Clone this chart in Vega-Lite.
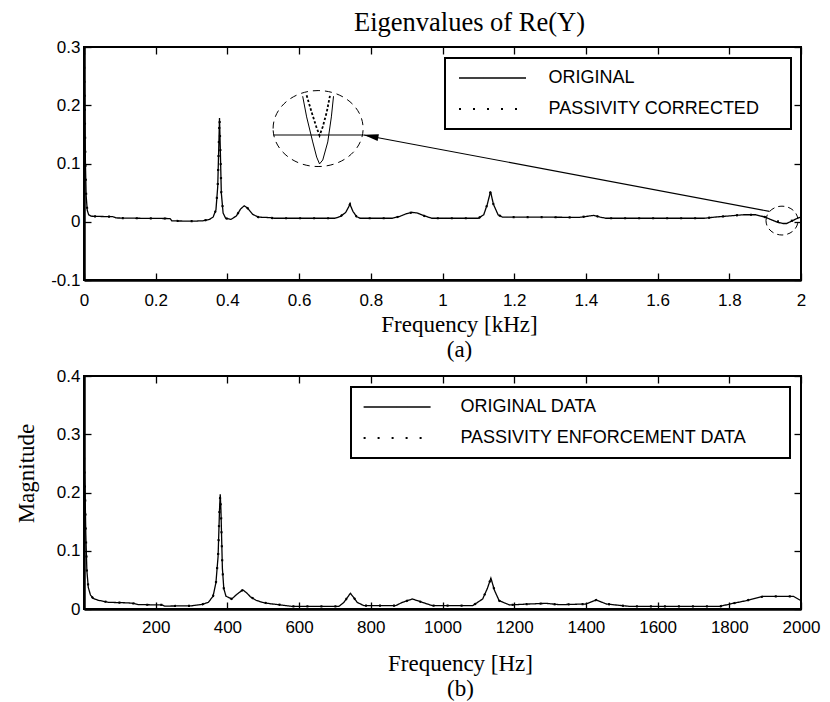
{
  "$schema": "https://vega.github.io/schema/vega-lite/v6.json",
  "background": "white",
  "padding": {"left": 14, "top": 8, "right": 5, "bottom": 2},
  "config": {
    "font": "Liberation Sans",
    "view": {"stroke": "black", "strokeWidth": 2},
    "axis": {
      "domainColor": "black", "domainWidth": 2.5,
      "tickColor": "black", "tickWidth": 1.3, "tickSize": -7,
      "labelFont": "Liberation Sans", "labelFontSize": 17, "labelColor": "black",
      "labelFlush": false, "labelOverlap": false, "grid": false,
      "titleFont": "Liberation Serif", "titleFontSize": 23, "titleFontWeight": "normal", "titleColor": "black"
    },
    "axisY": {"labelPadding": 11},
    "legend": {
      "orient": "none", "strokeColor": "black", "strokeWidth": 2, "fillColor": "white",
      "padding": 11, "rowPadding": 13, "cornerRadius": 0, "labelLimit": 0,
      "labelFont": "Liberation Sans", "labelFontSize": 18, "labelColor": "black",
      "symbolSize": 225, "symbolStrokeColor": "black", "symbolFillColor": "transparent"
    }
  },
  "datasets": {
    "top": [
      {"f": 0, "ORIGINAL": 0.29, "PASSIVITY CORRECTED": 0.29},
      {"f": 0.002, "ORIGINAL": 0.2, "PASSIVITY CORRECTED": 0.2},
      {"f": 0.004, "ORIGINAL": 0.1, "PASSIVITY CORRECTED": 0.1},
      {"f": 0.006, "ORIGINAL": 0.045, "PASSIVITY CORRECTED": 0.045},
      {"f": 0.009, "ORIGINAL": 0.02, "PASSIVITY CORRECTED": 0.02},
      {"f": 0.013, "ORIGINAL": 0.012, "PASSIVITY CORRECTED": 0.012},
      {"f": 0.02, "ORIGINAL": 0.0095, "PASSIVITY CORRECTED": 0.0095},
      {"f": 0.05, "ORIGINAL": 0.009, "PASSIVITY CORRECTED": 0.009},
      {"f": 0.08, "ORIGINAL": 0.0088, "PASSIVITY CORRECTED": 0.0088},
      {"f": 0.09, "ORIGINAL": 0.0065, "PASSIVITY CORRECTED": 0.0065},
      {"f": 0.15, "ORIGINAL": 0.006, "PASSIVITY CORRECTED": 0.006},
      {"f": 0.24, "ORIGINAL": 0.0055, "PASSIVITY CORRECTED": 0.0055},
      {"f": 0.245, "ORIGINAL": 0.0015, "PASSIVITY CORRECTED": 0.0015},
      {"f": 0.3, "ORIGINAL": 0.001, "PASSIVITY CORRECTED": 0.001},
      {"f": 0.33, "ORIGINAL": 0.0015, "PASSIVITY CORRECTED": 0.0015},
      {"f": 0.35, "ORIGINAL": 0.004, "PASSIVITY CORRECTED": 0.004},
      {"f": 0.36, "ORIGINAL": 0.008, "PASSIVITY CORRECTED": 0.008},
      {"f": 0.368, "ORIGINAL": 0.02, "PASSIVITY CORRECTED": 0.02},
      {"f": 0.373, "ORIGINAL": 0.06, "PASSIVITY CORRECTED": 0.06},
      {"f": 0.376, "ORIGINAL": 0.13, "PASSIVITY CORRECTED": 0.13},
      {"f": 0.378, "ORIGINAL": 0.178, "PASSIVITY CORRECTED": 0.178},
      {"f": 0.38, "ORIGINAL": 0.13, "PASSIVITY CORRECTED": 0.13},
      {"f": 0.383, "ORIGINAL": 0.05, "PASSIVITY CORRECTED": 0.05},
      {"f": 0.388, "ORIGINAL": 0.015, "PASSIVITY CORRECTED": 0.015},
      {"f": 0.395, "ORIGINAL": 0.006, "PASSIVITY CORRECTED": 0.006},
      {"f": 0.41, "ORIGINAL": 0.004, "PASSIVITY CORRECTED": 0.004},
      {"f": 0.425, "ORIGINAL": 0.01, "PASSIVITY CORRECTED": 0.01},
      {"f": 0.437, "ORIGINAL": 0.022, "PASSIVITY CORRECTED": 0.022},
      {"f": 0.447, "ORIGINAL": 0.0275, "PASSIVITY CORRECTED": 0.0275},
      {"f": 0.457, "ORIGINAL": 0.023, "PASSIVITY CORRECTED": 0.023},
      {"f": 0.47, "ORIGINAL": 0.013, "PASSIVITY CORRECTED": 0.013},
      {"f": 0.486, "ORIGINAL": 0.008, "PASSIVITY CORRECTED": 0.008},
      {"f": 0.52, "ORIGINAL": 0.007, "PASSIVITY CORRECTED": 0.007},
      {"f": 0.53, "ORIGINAL": 0.006, "PASSIVITY CORRECTED": 0.006},
      {"f": 0.7, "ORIGINAL": 0.006, "PASSIVITY CORRECTED": 0.006},
      {"f": 0.715, "ORIGINAL": 0.009, "PASSIVITY CORRECTED": 0.009},
      {"f": 0.73, "ORIGINAL": 0.016, "PASSIVITY CORRECTED": 0.016},
      {"f": 0.742, "ORIGINAL": 0.03, "PASSIVITY CORRECTED": 0.03},
      {"f": 0.75, "ORIGINAL": 0.018, "PASSIVITY CORRECTED": 0.018},
      {"f": 0.76, "ORIGINAL": 0.009, "PASSIVITY CORRECTED": 0.009},
      {"f": 0.77, "ORIGINAL": 0.006, "PASSIVITY CORRECTED": 0.006},
      {"f": 0.86, "ORIGINAL": 0.006, "PASSIVITY CORRECTED": 0.006},
      {"f": 0.88, "ORIGINAL": 0.009, "PASSIVITY CORRECTED": 0.009},
      {"f": 0.9, "ORIGINAL": 0.014, "PASSIVITY CORRECTED": 0.014},
      {"f": 0.915, "ORIGINAL": 0.016, "PASSIVITY CORRECTED": 0.016},
      {"f": 0.93, "ORIGINAL": 0.015, "PASSIVITY CORRECTED": 0.015},
      {"f": 0.95, "ORIGINAL": 0.01, "PASSIVITY CORRECTED": 0.01},
      {"f": 0.97, "ORIGINAL": 0.006, "PASSIVITY CORRECTED": 0.006},
      {"f": 1.1, "ORIGINAL": 0.006, "PASSIVITY CORRECTED": 0.006},
      {"f": 1.115, "ORIGINAL": 0.012, "PASSIVITY CORRECTED": 0.012},
      {"f": 1.125, "ORIGINAL": 0.03, "PASSIVITY CORRECTED": 0.03},
      {"f": 1.134, "ORIGINAL": 0.052, "PASSIVITY CORRECTED": 0.052},
      {"f": 1.142, "ORIGINAL": 0.03, "PASSIVITY CORRECTED": 0.03},
      {"f": 1.155, "ORIGINAL": 0.012, "PASSIVITY CORRECTED": 0.012},
      {"f": 1.167, "ORIGINAL": 0.008, "PASSIVITY CORRECTED": 0.008},
      {"f": 1.25, "ORIGINAL": 0.008, "PASSIVITY CORRECTED": 0.008},
      {"f": 1.38, "ORIGINAL": 0.0075, "PASSIVITY CORRECTED": 0.0075},
      {"f": 1.4, "ORIGINAL": 0.009, "PASSIVITY CORRECTED": 0.009},
      {"f": 1.422, "ORIGINAL": 0.011, "PASSIVITY CORRECTED": 0.011},
      {"f": 1.44, "ORIGINAL": 0.008, "PASSIVITY CORRECTED": 0.008},
      {"f": 1.455, "ORIGINAL": 0.006, "PASSIVITY CORRECTED": 0.006},
      {"f": 1.73, "ORIGINAL": 0.006, "PASSIVITY CORRECTED": 0.006},
      {"f": 1.76, "ORIGINAL": 0.008, "PASSIVITY CORRECTED": 0.008},
      {"f": 1.8, "ORIGINAL": 0.01, "PASSIVITY CORRECTED": 0.01},
      {"f": 1.84, "ORIGINAL": 0.012, "PASSIVITY CORRECTED": 0.012},
      {"f": 1.874, "ORIGINAL": 0.012, "PASSIVITY CORRECTED": 0.012},
      {"f": 1.9, "ORIGINAL": 0.008, "PASSIVITY CORRECTED": 0.008},
      {"f": 1.915, "ORIGINAL": 0.004, "PASSIVITY CORRECTED": 0.004},
      {"f": 1.935, "ORIGINAL": -0.001, "PASSIVITY CORRECTED": 0.0005},
      {"f": 1.95, "ORIGINAL": -0.003, "PASSIVITY CORRECTED": 0.0008},
      {"f": 1.96, "ORIGINAL": -0.003, "PASSIVITY CORRECTED": 0.0005},
      {"f": 1.977, "ORIGINAL": 0.002, "PASSIVITY CORRECTED": 0.002},
      {"f": 1.99, "ORIGINAL": 0.006, "PASSIVITY CORRECTED": 0.006},
      {"f": 2.0, "ORIGINAL": 0.008, "PASSIVITY CORRECTED": 0.008}
    ],
    "bot": [
      {"hz": 0, "ORIGINAL DATA": 0.26, "PASSIVITY ENFORCEMENT DATA": 0.26},
      {"hz": 3, "ORIGINAL DATA": 0.2, "PASSIVITY ENFORCEMENT DATA": 0.2},
      {"hz": 5, "ORIGINAL DATA": 0.13, "PASSIVITY ENFORCEMENT DATA": 0.13},
      {"hz": 8, "ORIGINAL DATA": 0.066, "PASSIVITY ENFORCEMENT DATA": 0.066},
      {"hz": 12, "ORIGINAL DATA": 0.037, "PASSIVITY ENFORCEMENT DATA": 0.037},
      {"hz": 18, "ORIGINAL DATA": 0.024, "PASSIVITY ENFORCEMENT DATA": 0.024},
      {"hz": 26, "ORIGINAL DATA": 0.018, "PASSIVITY ENFORCEMENT DATA": 0.018},
      {"hz": 40, "ORIGINAL DATA": 0.015, "PASSIVITY ENFORCEMENT DATA": 0.015},
      {"hz": 68, "ORIGINAL DATA": 0.0115, "PASSIVITY ENFORCEMENT DATA": 0.0115},
      {"hz": 124, "ORIGINAL DATA": 0.0105, "PASSIVITY ENFORCEMENT DATA": 0.0105},
      {"hz": 140, "ORIGINAL DATA": 0.0095, "PASSIVITY ENFORCEMENT DATA": 0.0095},
      {"hz": 152, "ORIGINAL DATA": 0.0075, "PASSIVITY ENFORCEMENT DATA": 0.0075},
      {"hz": 217, "ORIGINAL DATA": 0.007, "PASSIVITY ENFORCEMENT DATA": 0.007},
      {"hz": 225, "ORIGINAL DATA": 0.005, "PASSIVITY ENFORCEMENT DATA": 0.005},
      {"hz": 300, "ORIGINAL DATA": 0.0055, "PASSIVITY ENFORCEMENT DATA": 0.0055},
      {"hz": 330, "ORIGINAL DATA": 0.008, "PASSIVITY ENFORCEMENT DATA": 0.008},
      {"hz": 347, "ORIGINAL DATA": 0.0115, "PASSIVITY ENFORCEMENT DATA": 0.0115},
      {"hz": 360, "ORIGINAL DATA": 0.022, "PASSIVITY ENFORCEMENT DATA": 0.022},
      {"hz": 368, "ORIGINAL DATA": 0.045, "PASSIVITY ENFORCEMENT DATA": 0.045},
      {"hz": 374, "ORIGINAL DATA": 0.09, "PASSIVITY ENFORCEMENT DATA": 0.09},
      {"hz": 378, "ORIGINAL DATA": 0.17, "PASSIVITY ENFORCEMENT DATA": 0.17},
      {"hz": 380, "ORIGINAL DATA": 0.197, "PASSIVITY ENFORCEMENT DATA": 0.197},
      {"hz": 382, "ORIGINAL DATA": 0.17, "PASSIVITY ENFORCEMENT DATA": 0.17},
      {"hz": 386, "ORIGINAL DATA": 0.07, "PASSIVITY ENFORCEMENT DATA": 0.07},
      {"hz": 390, "ORIGINAL DATA": 0.035, "PASSIVITY ENFORCEMENT DATA": 0.035},
      {"hz": 396, "ORIGINAL DATA": 0.022, "PASSIVITY ENFORCEMENT DATA": 0.022},
      {"hz": 412, "ORIGINAL DATA": 0.0172, "PASSIVITY ENFORCEMENT DATA": 0.0172},
      {"hz": 426, "ORIGINAL DATA": 0.025, "PASSIVITY ENFORCEMENT DATA": 0.025},
      {"hz": 443, "ORIGINAL DATA": 0.033, "PASSIVITY ENFORCEMENT DATA": 0.033},
      {"hz": 455, "ORIGINAL DATA": 0.027, "PASSIVITY ENFORCEMENT DATA": 0.027},
      {"hz": 464, "ORIGINAL DATA": 0.021, "PASSIVITY ENFORCEMENT DATA": 0.021},
      {"hz": 480, "ORIGINAL DATA": 0.015, "PASSIVITY ENFORCEMENT DATA": 0.015},
      {"hz": 497, "ORIGINAL DATA": 0.0114, "PASSIVITY ENFORCEMENT DATA": 0.0114},
      {"hz": 520, "ORIGINAL DATA": 0.009, "PASSIVITY ENFORCEMENT DATA": 0.009},
      {"hz": 543, "ORIGINAL DATA": 0.0074, "PASSIVITY ENFORCEMENT DATA": 0.0074},
      {"hz": 580, "ORIGINAL DATA": 0.0045, "PASSIVITY ENFORCEMENT DATA": 0.0045},
      {"hz": 711, "ORIGINAL DATA": 0.0045, "PASSIVITY ENFORCEMENT DATA": 0.0045},
      {"hz": 725, "ORIGINAL DATA": 0.0114, "PASSIVITY ENFORCEMENT DATA": 0.0114},
      {"hz": 735, "ORIGINAL DATA": 0.02, "PASSIVITY ENFORCEMENT DATA": 0.02},
      {"hz": 743, "ORIGINAL DATA": 0.027, "PASSIVITY ENFORCEMENT DATA": 0.027},
      {"hz": 752, "ORIGINAL DATA": 0.02, "PASSIVITY ENFORCEMENT DATA": 0.02},
      {"hz": 762, "ORIGINAL DATA": 0.0114, "PASSIVITY ENFORCEMENT DATA": 0.0114},
      {"hz": 781, "ORIGINAL DATA": 0.0057, "PASSIVITY ENFORCEMENT DATA": 0.0057},
      {"hz": 869, "ORIGINAL DATA": 0.0057, "PASSIVITY ENFORCEMENT DATA": 0.0057},
      {"hz": 888, "ORIGINAL DATA": 0.0114, "PASSIVITY ENFORCEMENT DATA": 0.0114},
      {"hz": 916, "ORIGINAL DATA": 0.0172, "PASSIVITY ENFORCEMENT DATA": 0.0172},
      {"hz": 944, "ORIGINAL DATA": 0.0114, "PASSIVITY ENFORCEMENT DATA": 0.0114},
      {"hz": 972, "ORIGINAL DATA": 0.0057, "PASSIVITY ENFORCEMENT DATA": 0.0057},
      {"hz": 1084, "ORIGINAL DATA": 0.0057, "PASSIVITY ENFORCEMENT DATA": 0.0057},
      {"hz": 1112, "ORIGINAL DATA": 0.0172, "PASSIVITY ENFORCEMENT DATA": 0.0172},
      {"hz": 1125, "ORIGINAL DATA": 0.035, "PASSIVITY ENFORCEMENT DATA": 0.035},
      {"hz": 1135, "ORIGINAL DATA": 0.053, "PASSIVITY ENFORCEMENT DATA": 0.053},
      {"hz": 1145, "ORIGINAL DATA": 0.032, "PASSIVITY ENFORCEMENT DATA": 0.032},
      {"hz": 1158, "ORIGINAL DATA": 0.0143, "PASSIVITY ENFORCEMENT DATA": 0.0143},
      {"hz": 1187, "ORIGINAL DATA": 0.0069, "PASSIVITY ENFORCEMENT DATA": 0.0069},
      {"hz": 1242, "ORIGINAL DATA": 0.0086, "PASSIVITY ENFORCEMENT DATA": 0.0086},
      {"hz": 1289, "ORIGINAL DATA": 0.0097, "PASSIVITY ENFORCEMENT DATA": 0.0097},
      {"hz": 1326, "ORIGINAL DATA": 0.0074, "PASSIVITY ENFORCEMENT DATA": 0.0074},
      {"hz": 1400, "ORIGINAL DATA": 0.0086, "PASSIVITY ENFORCEMENT DATA": 0.0086},
      {"hz": 1429, "ORIGINAL DATA": 0.0155, "PASSIVITY ENFORCEMENT DATA": 0.0155},
      {"hz": 1457, "ORIGINAL DATA": 0.0086, "PASSIVITY ENFORCEMENT DATA": 0.0086},
      {"hz": 1522, "ORIGINAL DATA": 0.0045, "PASSIVITY ENFORCEMENT DATA": 0.0045},
      {"hz": 1774, "ORIGINAL DATA": 0.0045, "PASSIVITY ENFORCEMENT DATA": 0.0045},
      {"hz": 1802, "ORIGINAL DATA": 0.0086, "PASSIVITY ENFORCEMENT DATA": 0.0086},
      {"hz": 1847, "ORIGINAL DATA": 0.0143, "PASSIVITY ENFORCEMENT DATA": 0.0143},
      {"hz": 1895, "ORIGINAL DATA": 0.0217, "PASSIVITY ENFORCEMENT DATA": 0.0217},
      {"hz": 1979, "ORIGINAL DATA": 0.0217, "PASSIVITY ENFORCEMENT DATA": 0.0217},
      {"hz": 2000, "ORIGINAL DATA": 0.0143, "PASSIVITY ENFORCEMENT DATA": 0.0143}
    ]
  },
  "spacing": 3,
  "resolve": {
    "scale": {"strokeDash": "independent", "strokeWidth": "independent"},
    "legend": {"strokeDash": "independent", "strokeWidth": "independent"}
  },
  "vconcat": [
    {
      "width": 717,
      "height": 233,
      "title": {"text": "Eigenvalues of Re(Y)", "font": "Liberation Serif", "fontSize": 26.5, "fontWeight": "normal", "color": "black", "anchor": "middle", "dx": 27, "offset": -19, "baseline": "alphabetic"},
      "layer": [
        {
          "layer": [
            {
              "data": {"name": "top"},
              "transform": [{"fold": ["ORIGINAL", "PASSIVITY CORRECTED"], "as": ["series", "val"]}],
              "mark": {"type": "line", "color": "black", "clip": true},
              "encoding": {
                "x": {"field": "f", "type": "quantitative", "scale": {"domain": [0, 2], "nice": false, "zero": false},
                  "axis": {"values": [0, 0.2, 0.4, 0.6, 0.8, 1, 1.2, 1.4, 1.6, 1.8, 2], "labelExpr": "'' + datum.value", "labelPadding": 19.5, "labelDx": 5, "title": ["Frequency [kHz]", "(a)"], "titleX": 375, "titleY": 33, "titleLineHeight": 25.5}},
                "y": {"field": "val", "type": "quantitative", "scale": {"domain": [-0.1, 0.3], "nice": false, "zero": false},
                  "axis": {"values": [-0.1, 0, 0.1, 0.2, 0.3], "labelExpr": "'' + datum.value", "title": null}},
                "strokeDash": {"field": "series", "type": "nominal", "scale": {"domain": ["ORIGINAL", "PASSIVITY CORRECTED"], "range": [[1, 0], [2, 12]]},
                  "legend": {"title": null, "legendX": 361, "legendY": 11, "symbolType": "M -4.467 0 L 4.467 0 M 37.7 0", "symbolOffset": 27.5, "labelOffset": 47}},
                "strokeWidth": {"field": "series", "type": "nominal", "scale": {"domain": ["ORIGINAL", "PASSIVITY CORRECTED"], "range": [1.3, 2.2]},
                  "legend": {"title": null, "legendX": 361, "legendY": 11, "symbolType": "M -4.467 0 L 4.467 0 M 37.7 0", "symbolOffset": 27.5, "labelOffset": 47}}
              }
            },
            {
              "data": {"values": [{"f": 0.653, "v": 0.16, "kind": "big"}]},
              "mark": {"type": "point", "shape": "M -1 0 A 1 0.844 0 1 1 1 0 A 1 0.844 0 1 1 -1 0 Z", "size": 8100, "filled": false, "stroke": "black", "strokeWidth": 1, "strokeDash": [7, 5], "opacity": 1},
              "encoding": {"x": {"field": "f", "type": "quantitative"}, "y": {"field": "v", "type": "quantitative"}}
            },
            {
              "data": {"values": [{"f": 1.947, "v": 0.002, "kind": "small"}]},
              "mark": {"type": "point", "shape": "M -1 0 A 1 0.9 0 1 1 1 0 A 1 0.9 0 1 1 -1 0 Z", "size": 1024, "filled": false, "stroke": "black", "strokeWidth": 1, "strokeDash": [6, 4], "opacity": 1},
              "encoding": {"x": {"field": "f", "type": "quantitative"}, "y": {"field": "v", "type": "quantitative"}}
            },
            {
              "data": {"values": [{"f": 1.912, "v": 0.0178, "f2": 0.7796, "v2": 0.149}, {"f": 0.528, "v": 0.149, "f2": 0.7796, "v2": 0.149}]},
              "mark": {"type": "rule", "color": "black", "strokeWidth": 1.1},
              "encoding": {"x": {"field": "f", "type": "quantitative"}, "y": {"field": "v", "type": "quantitative"}, "x2": {"field": "f2"}, "y2": {"field": "v2"}}
            },
            {
              "data": {"values": [{"f": 0.8003, "v": 0.1469}]},
              "mark": {"type": "point", "shape": "M -1 0 L 1 -0.45 L 1 0.45 Z", "size": 225, "filled": true, "color": "black", "angle": 10.7, "opacity": 1},
              "encoding": {"x": {"field": "f", "type": "quantitative"}, "y": {"field": "v", "type": "quantitative"}}
            },
            {
              "data": {"values": [
                {"f": 0.61, "v": 0.2155, "o": 1}, {"f": 0.621, "v": 0.18, "o": 2}, {"f": 0.638, "v": 0.137, "o": 3},
                {"f": 0.649, "v": 0.111, "o": 4}, {"f": 0.657, "v": 0.0993, "o": 5}, {"f": 0.666, "v": 0.106, "o": 6},
                {"f": 0.68, "v": 0.137, "o": 7}, {"f": 0.69, "v": 0.18, "o": 8}, {"f": 0.696, "v": 0.2155, "o": 9}
              ]},
              "mark": {"type": "line", "color": "black", "strokeWidth": 1},
              "encoding": {"x": {"field": "f", "type": "quantitative"}, "y": {"field": "v", "type": "quantitative"}, "order": {"field": "o"}}
            },
            {
              "data": {"values": [
                {"f": 0.621, "v": 0.217, "o": 1}, {"f": 0.635, "v": 0.188, "o": 2}, {"f": 0.648, "v": 0.163, "o": 3},
                {"f": 0.657, "v": 0.148, "o": 4}, {"f": 0.666, "v": 0.163, "o": 5}, {"f": 0.677, "v": 0.188, "o": 6},
                {"f": 0.686, "v": 0.216, "o": 7}
              ]},
              "mark": {"type": "line", "color": "black", "strokeWidth": 1.8, "strokeDash": [2.5, 2]},
              "encoding": {"x": {"field": "f", "type": "quantitative"}, "y": {"field": "v", "type": "quantitative"}, "order": {"field": "o"}}
            }
          ]
        },
        {
          "data": {"name": "top"},
          "mark": {"type": "point", "opacity": 0},
          "encoding": {
            "x": {"field": "f", "type": "quantitative", "scale": {"domain": [0, 2], "nice": false, "zero": false},
              "axis": {"orient": "top", "values": [0, 0.2, 0.4, 0.6, 0.8, 1, 1.2, 1.4, 1.6, 1.8, 2], "labels": false, "domain": false, "title": null, "minExtent": 0, "maxExtent": 0}},
            "y": {"field": "ORIGINAL", "type": "quantitative", "scale": {"domain": [-0.1, 0.3], "nice": false, "zero": false},
              "axis": {"orient": "right", "values": [-0.1, 0, 0.1, 0.2, 0.3], "labels": false, "domain": false, "title": null, "minExtent": 0, "maxExtent": 0}}
          }
        }
      ],
      "resolve": {"scale": {"x": "independent", "y": "independent"}}
    },
    {
      "width": 717,
      "height": 233,
      "layer": [
        {
          "data": {"name": "bot"},
          "transform": [{"fold": ["ORIGINAL DATA", "PASSIVITY ENFORCEMENT DATA"], "as": ["series", "val"]}],
          "mark": {"type": "line", "color": "black", "clip": true},
          "encoding": {
            "x": {"field": "hz", "type": "quantitative", "scale": {"domain": [0, 2000], "nice": false, "zero": false},
              "axis": {"values": [200, 400, 600, 800, 1000, 1200, 1400, 1600, 1800, 2000], "labelExpr": "'' + datum.value", "labelPadding": 17.5, "labelDx": 6, "title": ["Frequency [Hz]", "(b)"], "titleX": 376, "titleY": 43, "titleLineHeight": 25}},
            "y": {"field": "val", "type": "quantitative", "scale": {"domain": [0, 0.4], "nice": false, "zero": false},
              "axis": {"values": [0, 0.1, 0.2, 0.3, 0.4], "labelExpr": "'' + datum.value", "title": "Magnitude", "titleY": 97, "titlePadding": 18}},
            "strokeDash": {"field": "series", "type": "nominal", "scale": {"domain": ["ORIGINAL DATA", "PASSIVITY ENFORCEMENT DATA"], "range": [[1, 0], [2, 12]]},
              "legend": {"title": null, "legendX": 267, "legendY": 11, "symbolType": "M -4.467 0 L 4.467 0 M 50.3 0", "symbolOffset": 26.1, "labelOffset": 54.3}},
            "strokeWidth": {"field": "series", "type": "nominal", "scale": {"domain": ["ORIGINAL DATA", "PASSIVITY ENFORCEMENT DATA"], "range": [1.3, 2.2]},
              "legend": {"title": null, "legendX": 267, "legendY": 11, "symbolType": "M -4.467 0 L 4.467 0 M 50.3 0", "symbolOffset": 26.1, "labelOffset": 54.3}}
          }
        },
        {
          "data": {"name": "bot"},
          "mark": {"type": "point", "opacity": 0},
          "encoding": {
            "x": {"field": "hz", "type": "quantitative", "scale": {"domain": [0, 2000], "nice": false, "zero": false},
              "axis": {"orient": "top", "values": [200, 400, 600, 800, 1000, 1200, 1400, 1600, 1800, 2000], "labels": false, "domain": false, "title": null, "minExtent": 0, "maxExtent": 0}},
            "y": {"field": "ORIGINAL DATA", "type": "quantitative", "scale": {"domain": [0, 0.4], "nice": false, "zero": false},
              "axis": {"orient": "right", "values": [0, 0.1, 0.2, 0.3, 0.4], "labels": false, "domain": false, "title": null, "minExtent": 0, "maxExtent": 0}}
          }
        }
      ],
      "resolve": {"scale": {"x": "independent", "y": "independent"}}
    }
  ]
}
